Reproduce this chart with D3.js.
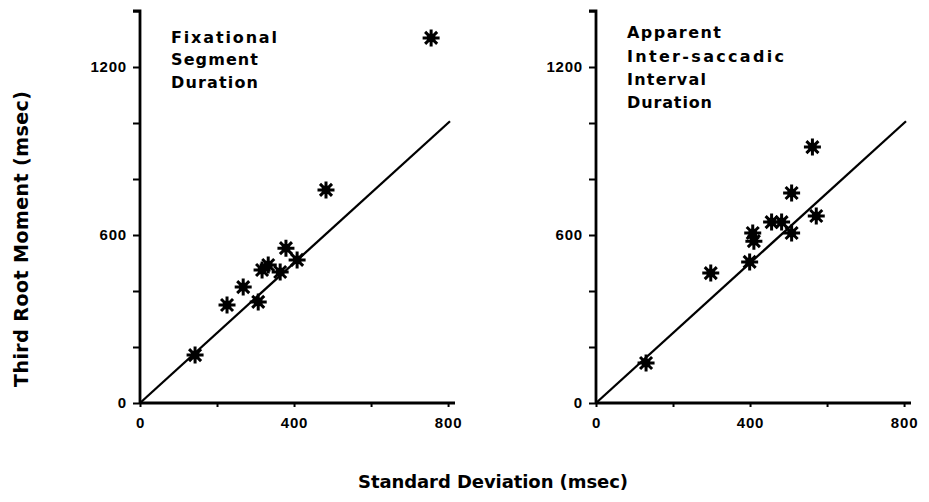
<!DOCTYPE html>
<html>
<head>
<meta charset="utf-8">
<script src="https://cdn.jsdelivr.net/npm/d3@7"></script>
<style>
  html, body { margin: 0; padding: 0; background: #fff; }
  svg { display: block; }
  text { font-family: "DejaVu Sans", "Liberation Sans", Arial, sans-serif; font-weight: bold; fill: #000; }
</style>
</head>
<body>
<svg id="chart" width="929" height="502"></svg>
<script>
// Fixational segment durations: standard deviation vs third root moment (msec)
const fixSD    = [143, 226, 268, 307, 317, 333, 364, 379, 408, 483, 756];
const fixTRM   = [171, 350, 414, 361, 475, 493, 468, 553, 511, 761, 1304];
// Apparent inter-saccadic interval durations
const isiSD    = [130, 298, 399, 407, 410, 456, 482, 508, 508, 572, 562];
const isiTRM   = [143, 464, 504, 607, 578, 646, 646, 607, 750, 668, 914];
// Reference line: third root moment = slope x standard deviation
const lineSlope = 1.25;
const lineEnd   = 805;
// Axis ticks
const xTicks = [0, 200, 400, 600, 800];
const xTickLabels = [0, 400, 800];
const yTicks = [0, 200, 400, 600, 800, 1000, 1200, 1400];
const yTickLabels = [0, 600, 1200];
const leftLabel  = ["Fixational", "Segment", "Duration"];
const rightLabel = ["Apparent", "Inter-saccadic", "Interval", "Duration"];
const xTitle = "Standard Deviation (msec)";
const yTitle = "Third Root Moment (msec)";

const svg = d3.select("#chart");

const y = d3.scaleLinear().domain([0, 1400]).range([403, 11]);

function asteriskPath(r) {
  let p = "";
  for (let k = 0; k < 4; k++) {
    const a = k * Math.PI / 4;
    const dx = r * Math.cos(a), dy = r * Math.sin(a);
    p += `M${-dx},${-dy}L${dx},${dy}`;
  }
  return p;
}

function panel(x0, sd, trm, label, labelWidths, labelBaselines) {
  const x = d3.scaleLinear().domain([0, 818]).range([x0, x0 + 315]);
  const g = svg.append("g");

  // y axis
  const ya = g.append("g")
    .attr("transform", `translate(${x0},0)`)
    .call(d3.axisLeft(y).tickValues(yTicks).tickSize(7).tickPadding(6)
      .tickFormat(d => yTickLabels.includes(d) ? d : ""));
  // x axis
  const xa = g.append("g")
    .attr("transform", `translate(0,${y(0)})`)
    .call(d3.axisBottom(x).tickValues(xTicks).tickSize(4).tickPadding(10)
      .tickFormat(d => xTickLabels.includes(d) ? d : ""));

  [ya, xa].forEach(a => {
    a.select(".domain").attr("stroke", "#000").attr("stroke-width", 2.8);
    a.selectAll(".tick line").attr("stroke", "#000").attr("stroke-width", 2);
    a.selectAll(".tick text").style("font-size", "15px").style("letter-spacing", "0.8px")
      .style("font-family", "'Liberation Sans', Arial, sans-serif").style("font-weight", "bold");
  });
  ya.select(".domain").attr("d", `M-7,${y(1400)}H0V${y(0)}`);
  xa.select(".domain").attr("d", `M${x(0)},0H${x(818)}`);

  // reference line
  g.append("line")
    .attr("x1", x(0)).attr("y1", y(0))
    .attr("x2", x(lineEnd)).attr("y2", y(lineEnd * lineSlope))
    .attr("stroke", "#000").attr("stroke-width", 2.3);

  // asterisk markers
  const pts = sd.map((d, i) => [d, trm[i]]);
  const m = g.append("g").selectAll("g").data(pts).join("g")
    .attr("transform", d => `translate(${x(d[0])},${y(d[1])})`);
  m.append("path").attr("d", asteriskPath(8.5))
    .attr("stroke", "#000").attr("stroke-width", 3).attr("stroke-linecap", "butt");
  m.append("circle").attr("r", 4.5).attr("fill", "#000");

  // panel label
  g.append("g").selectAll("text").data(label).join("text")
    .attr("x", x0 + 31)
    .attr("y", (d, i) => labelBaselines[i])
    .attr("textLength", (d, i) => labelWidths[i])
    .attr("lengthAdjust", "spacing")
    .style("font-size", "16px")
    .text(d => d);
}

panel(140, fixSD, fixTRM, leftLabel, [106, 87, 87], [43, 65, 88]);
panel(596, isiSD, isiTRM, rightLabel, [94, 157, 79, 85], [38, 62, 85, 108]);

// axis titles
svg.append("text")
  .attr("x", 493).attr("y", 488)
  .attr("text-anchor", "middle")
  .attr("textLength", 270).attr("lengthAdjust", "spacing")
  .style("font-size", "18px")
  .text(xTitle);

svg.append("text")
  .attr("transform", "translate(28,239) rotate(-90)")
  .attr("text-anchor", "middle")
  .attr("textLength", 296).attr("lengthAdjust", "spacing")
  .style("font-size", "19px")
  .text(yTitle);
</script>
</body>
</html>
